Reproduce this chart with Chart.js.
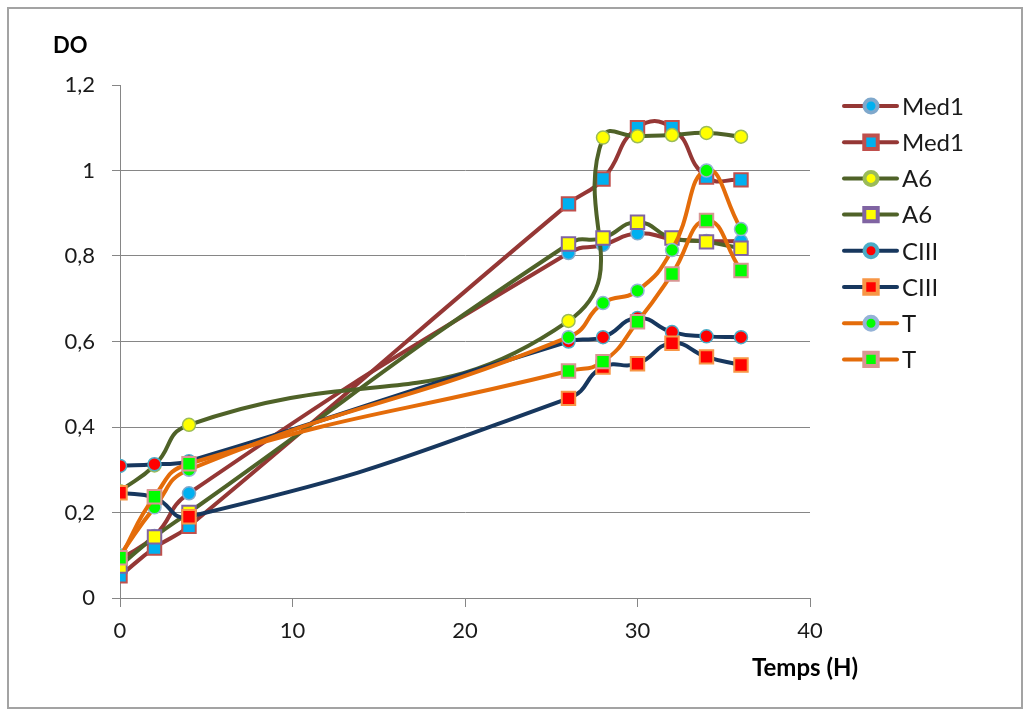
<!DOCTYPE html>
<html>
<head>
<meta charset="utf-8">
<title>DO / Temps</title>
<script src="https://cdn.jsdelivr.net/npm/chart.js@4.4.1/dist/chart.umd.min.js"></script>
<style>
  html, body { margin: 0; padding: 0; background: #fff; }
  #wrap { position: relative; width: 1024px; height: 716px; }
  #frame { position: absolute; left: 7px; top: 7px; width: 1016px; height: 702px; border: 2px solid #a3a3a3; box-sizing: border-box; pointer-events: none; }
  #chart { position: absolute; left: 0; top: 0; }
</style>
</head>
<body>
<div id="wrap">
  <canvas id="chart" width="1024" height="716"></canvas>
  <div id="frame"></div>
</div>
<script>
// sampling times (hours)
const hours = [0, 2, 4, 26, 28, 30, 32, 34, 36];

// optical density per culture (two replicates each)
const med1A = [0.09, 0.145, 0.245, 0.807, 0.826, 0.853, 0.84, 0.835, 0.835];
const med1B = [0.052, 0.117, 0.168, 0.922, 0.98, 1.10, 1.10, 0.985, 0.978];
const a6A   = [0.25, 0.31, 0.405, 0.648, 1.077, 1.08, 1.083, 1.088, 1.079];
const a6B   = [0.075, 0.143, 0.2, 0.828, 0.842, 0.879, 0.842, 0.833, 0.818];
const c3A   = [0.309, 0.313, 0.32, 0.60, 0.61, 0.655, 0.622, 0.612, 0.61];
const c3B   = [0.246, 0.235, 0.19, 0.467, 0.54, 0.548, 0.596, 0.564, 0.545];
const tA    = [0.10, 0.212, 0.30, 0.61, 0.69, 0.719, 0.814, 1.0, 0.863];
const tB    = [0.094, 0.237, 0.314, 0.531, 0.553, 0.646, 0.758, 0.883, 0.766];

const labels = ['Med1', 'Med1', 'A6', 'A6', 'CIII', 'CIII', 'T', 'T'];
const xTicks = [0, 10, 20, 30, 40];
const yTicks = [0, 0.2, 0.4, 0.6, 0.8, 1, 1.2];

const FONT = 'Lato, "Liberation Sans", sans-serif';

function series(label, values, line, fill, edge, shape, idx) {
  const round = shape === 'circle';
  return {
    label: label,
    data: values.map((v, i) => ({ x: hours[i], y: v })),
    borderColor: line,
    borderWidth: 4,
    tension: 0.5,
    pointStyle: shape,
    pointRadius: round ? 6.5 : 9.5,
    pointBorderWidth: round ? 1.5 : 2,
    pointBackgroundColor: fill,
    pointBorderColor: edge,
    pointHoverRadius: round ? 6.5 : 9.5,
    order: 7 - idx
  };
}

const datasets = [
  series(labels[0], med1A, '#953735', '#00b0f0', '#7fa8cc', 'circle', 0),
  series(labels[1], med1B, '#953735', '#00b0f0', '#c0504d', 'rect', 1),
  series(labels[2], a6A, '#4f6228', '#ffff00', '#9bbb59', 'circle', 2),
  series(labels[3], a6B, '#4f6228', '#ffff00', '#8064a2', 'rect', 3),
  series(labels[4], c3A, '#17375e', '#ff0000', '#4bacc6', 'circle', 4),
  series(labels[5], c3B, '#17375e', '#ff0000', '#f79646', 'rect', 5),
  series(labels[6], tA, '#e46c0a', '#00ff00', '#95b3d7', 'circle', 6),
  series(labels[7], tB, '#e46c0a', '#00ff00', '#d99694', 'rect', 7)
];

// legend with line + marker samples, plus the two axis captions
const decorations = {
  id: 'decorations',
  afterDraw(chart) {
    const ctx = chart.ctx;
    ctx.save();
    chart.data.datasets.forEach((ds, i) => {
      const y = 106 + i * 36.2;
      ctx.strokeStyle = ds.borderColor;
      ctx.lineWidth = 4;
      ctx.lineCap = 'round';
      ctx.beginPath();
      ctx.moveTo(844, y);
      ctx.lineTo(897, y);
      ctx.stroke();
      ctx.fillStyle = ds.pointBackgroundColor;
      ctx.strokeStyle = ds.pointBorderColor;
      Chart.helpers.drawPoint(ctx, {
        pointStyle: ds.pointStyle,
        radius: ds.pointRadius,
        borderWidth: ds.pointBorderWidth,
        rotation: 0
      }, 871, y);
      ctx.fillStyle = '#1a1a1a';
      ctx.font = '24px ' + FONT;
      ctx.textAlign = 'left';
      ctx.textBaseline = 'middle';
      ctx.fillText(ds.label, 902, y + 1);
    });
    ctx.fillStyle = '#000';
    ctx.textAlign = 'left';
    ctx.textBaseline = 'middle';
    ctx.font = 'bold 22px ' + FONT;
    ctx.fillText('DO', 53, 46);
    ctx.font = 'bold 24px ' + FONT;
    ctx.fillText('Temps (H)', 752, 668);
    ctx.restore();
  }
};

new Chart(document.getElementById('chart'), {
  type: 'line',
  data: { datasets: datasets },
  options: {
    responsive: false,
    animation: false,
    layout: { padding: { left: 0, top: 85, right: 214, bottom: 0 } },
    plugins: { legend: { display: false }, tooltip: { enabled: false } },
    scales: {
      x: {
        type: 'linear',
        min: 0,
        max: 40,
        afterBuildTicks: s => { s.ticks = xTicks.map(v => ({ value: v })); },
        afterFit: s => { s.height = 118; },
        ticks: { color: '#1a1a1a', font: { family: FONT, size: 22 }, padding: 11, maxRotation: 0 },
        grid: { drawOnChartArea: false, tickLength: 9, tickColor: '#868686', lineWidth: 1 },
        border: { color: '#868686', width: 1 }
      },
      y: {
        min: 0,
        max: 1.2,
        afterBuildTicks: s => { s.ticks = yTicks.map(v => ({ value: v })); },
        afterFit: s => { s.width = 120; },
        ticks: {
          color: '#1a1a1a',
          font: { family: FONT, size: 22 },
          padding: 17,
          callback: v => String(Number(v.toFixed(1))).replace('.', ',')
        },
        grid: {
          color: c => (c.tick && c.tick.value >= 1.2 ? 'rgba(0,0,0,0)' : '#868686'),
          tickColor: '#868686',
          tickLength: 8,
          lineWidth: 1
        },
        border: { color: '#868686', width: 1 }
      }
    }
  },
  plugins: [decorations]
});
</script>
</body>
</html>
